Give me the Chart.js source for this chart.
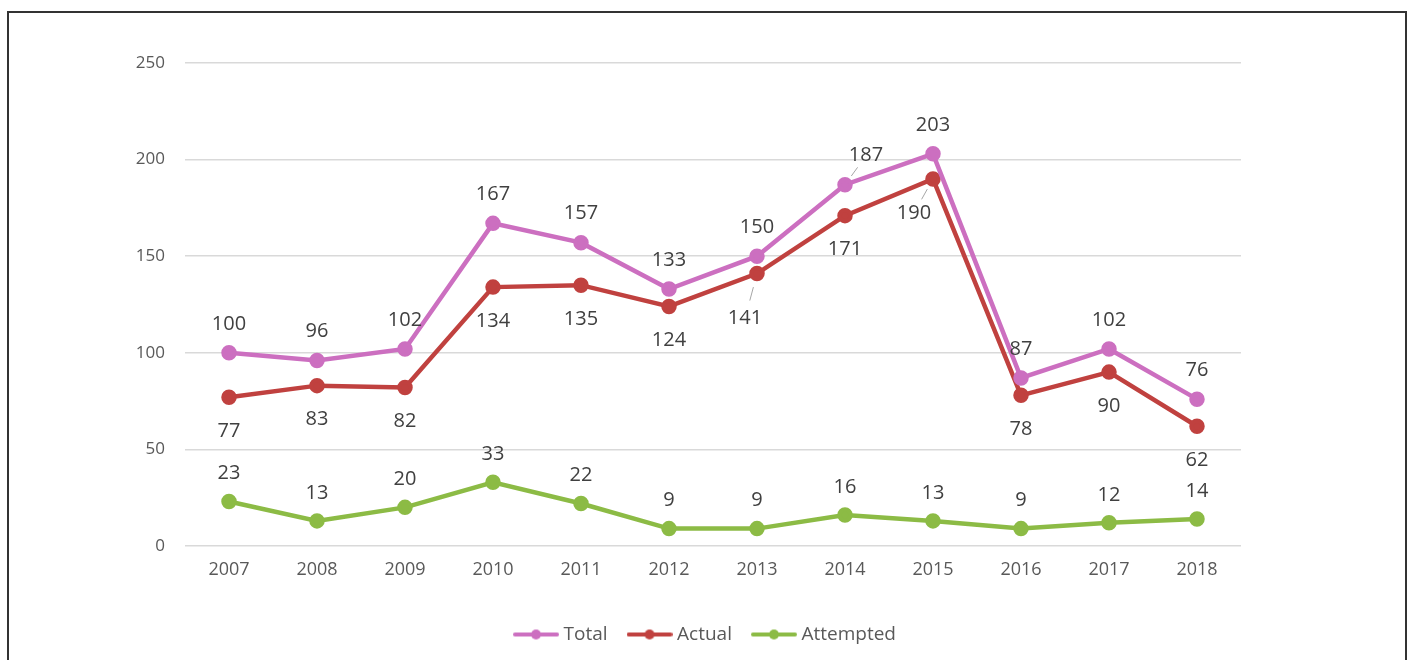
<!DOCTYPE html>
<html>
<head>
<meta charset="utf-8">
<script src="https://cdn.jsdelivr.net/npm/chart.js@4.4.1/dist/chart.umd.min.js"></script>
<style>
  html, body { margin: 0; padding: 0; background: #fff; }
  #wrap { position: relative; width: 1414px; height: 660px; overflow: hidden; }
  #frame { position: absolute; left: 7px; top: 11px; width: 1400px; height: 700px; border: 2px solid #333; box-sizing: border-box; }
  #chart { position: absolute; left: 0; top: 0; }
</style>
</head>
<body>
<div id="wrap">
  <div id="frame"></div>
  <canvas id="chart" width="1414" height="660"></canvas>
</div>
<script>
const years = ['2007', '2008', '2009', '2010', '2011', '2012', '2013', '2014', '2015', '2016', '2017', '2018'];
const totalCases = [100, 96, 102, 167, 157, 133, 150, 187, 203, 87, 102, 76];
const actualCases = [77, 83, 82, 134, 135, 124, 141, 171, 190, 78, 90, 62];
const attemptedCases = [23, 13, 20, 33, 22, 9, 9, 16, 13, 9, 12, 14];
const yTicks = [0, 50, 100, 150, 200, 250];

const colors = { total: '#cc6fc0', actual: '#c0413f', attempted: '#8cbb45' };

// label placement: default offset per series, plus a few moved labels with leader lines
const labelOffset = [-29, 34, -28];
const specialLabels = {
    '0-7': { dx: 21, dy: -29, leader: true },
    '1-8': { dx: -19, dy: 34, leader: true },
    '1-6': { dx: -12, dy: 45, leader: true }
};

function legendMarker(color) {
    const c = document.createElement('canvas');
    c.width = 46; c.height = 12;
    const g = c.getContext('2d');
    g.strokeStyle = color;
    g.lineWidth = 4;
    g.lineCap = 'round';
    g.beginPath(); g.moveTo(2, 6); g.lineTo(44, 6); g.stroke();
    g.fillStyle = color;
    g.beginPath(); g.arc(23, 6, 5, 0, Math.PI * 2); g.fill();
    return c;
}

const dataLabels = {
    id: 'dataLabels',
    afterDatasetsDraw(chart) {
        const ctx = chart.ctx;
        ctx.save();
        ctx.font = '20px "Open Sans"';
        ctx.fillStyle = '#404040';
        ctx.textAlign = 'center';
        ctx.textBaseline = 'middle';
        chart.data.datasets.forEach((ds, di) => {
            const meta = chart.getDatasetMeta(di);
            meta.data.forEach((pt, i) => {
                const sp = specialLabels[di + '-' + i];
                const dx = sp ? sp.dx : 0;
                const dy = sp ? sp.dy : labelOffset[di];
                const lx = pt.x + dx, ly = pt.y + dy;
                if (sp && sp.leader) {
                    ctx.strokeStyle = '#a6a6a6';
                    ctx.lineWidth = 1;
                    ctx.beginPath();
                    ctx.moveTo(pt.x + dx * 0.3, pt.y + dy * 0.3);
                    ctx.lineTo(pt.x + dx * 0.6, pt.y + dy * 0.6);
                    ctx.stroke();
                }
                ctx.fillText(String(ds.data[i]), lx, ly);
            });
        });
        ctx.restore();
    }
};

function series(label, data, color) {
    return {
        label: label,
        data: data,
        borderColor: color,
        backgroundColor: color,
        pointBackgroundColor: color,
        pointBorderColor: color,
        borderWidth: 4.5,
        pointRadius: 5.5,
        pointHoverRadius: 5.5,
        tension: 0,
        legendMarker: legendMarker(color)
    };
}

new Chart(document.getElementById('chart').getContext('2d'), {
    type: 'line',
    data: {
        labels: years,
        datasets: [
            series('Total', totalCases, colors.total),
            series('Actual', actualCases, colors.actual),
            series('Attempted', attemptedCases, colors.attempted)
        ]
    },
    options: {
        responsive: false,
        animation: false,
        layout: { padding: { left: 0, right: 0, top: 63, bottom: 6 } },
        plugins: {
            tooltip: { enabled: false },
            legend: {
                position: 'bottom',
                labels: {
                    usePointStyle: true,
                    pointStyleWidth: 36,
                    boxHeight: 12,
                    padding: 24,
                    color: '#595959',
                    font: { family: '"Open Sans"', size: 19 },
                    generateLabels(chart) {
                        return chart.data.datasets.map((ds, i) => ({
                            text: ds.label,
                            pointStyle: ds.legendMarker,
                            fillStyle: ds.borderColor,
                            strokeStyle: ds.borderColor,
                            lineWidth: 0,
                            fontColor: '#595959',
                            datasetIndex: i
                        }));
                    }
                }
            }
        },
        scales: {
            x: {
                offset: true,
                grid: { display: false, drawTicks: false },
                border: { display: false },
                ticks: { color: '#595959', font: { family: '"Open Sans"', size: 18 }, padding: 13 },
                afterFit(s) { s.height = 55; }
            },
            y: {
                min: 0,
                max: 250,
                afterBuildTicks(s) { s.ticks = yTicks.map(v => ({ value: v })); },
                grid: { color: '#d9d9d9', lineWidth: 1.5, drawTicks: false },
                border: { display: false },
                ticks: { color: '#595959', font: { family: '"Open Sans"', size: 17 }, padding: 20 },
                afterFit(s) { s.width = 185; }
            },
            // empty right-hand axis only reserves the blank margin, so the legend stays centred on the page
            yRight: {
                position: 'right',
                grid: { display: false },
                border: { display: false },
                ticks: { display: false },
                afterFit(s) { s.width = 173; }
            }
        }
    },
    plugins: [dataLabels]
});
</script>
</body>
</html>
